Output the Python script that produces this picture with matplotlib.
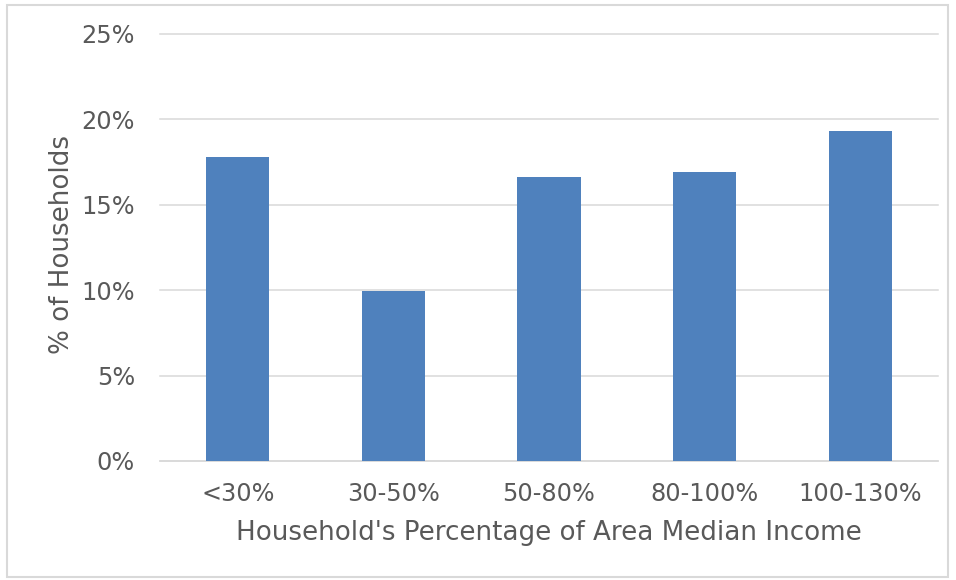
import matplotlib
matplotlib.use("Agg")
import matplotlib.pyplot as plt
from matplotlib.patches import Rectangle
from matplotlib.ticker import FuncFormatter, MultipleLocator

categories = ["<30%", "30-50%", "50-80%", "80-100%", "100-130%"]
values = [17.8, 9.95, 16.6, 16.9, 19.35]
y_label = "% of Households"
x_label = "Household's Percentage of Area Median Income"

W, H = 956, 580
fig = plt.figure(figsize=(W / 100, H / 100), dpi=100)
fig.patch.set_facecolor("white")

# outer border
fig.add_artist(Rectangle((7 / W, 1 - 577 / H), (948 - 7) / W, (577 - 5) / H,
                         transform=fig.transFigure, fill=False,
                         edgecolor="#d9d9d9", linewidth=1.5))

left, right, top, bottom = 160, 938, 34, 461
ax = fig.add_axes([left / W, 1 - bottom / H, (right - left) / W, (bottom - top) / H])

x = range(len(categories))
ax.bar(x, values, width=0.405, color="#4f81bd", zorder=3)

ax.set_xlim(-0.5, len(categories) - 0.5)
ax.set_ylim(0, 25)
ax.yaxis.set_major_locator(MultipleLocator(5))
ax.yaxis.set_major_formatter(FuncFormatter(lambda v, p: f"{v:.0f}%"))
ax.set_xticks(list(x))
ax.set_xticklabels(categories)

ax.grid(axis="y", color="#d9d9d9", linewidth=1.1, zorder=0)
ax.set_axisbelow(True)
for gl in ax.get_ygridlines():
    gl.set_clip_on(False)
for s in ["top", "right", "left"]:
    ax.spines[s].set_visible(False)
ax.spines["bottom"].set_color("#d9d9d9")
ax.spines["bottom"].set_linewidth(1.1)

txt = "#595959"
ax.tick_params(axis="both", length=0, labelsize=17.3, labelcolor=txt)
ax.tick_params(axis="x", pad=15)
ax.tick_params(axis="y", pad=18)

ax.set_xlabel(x_label, fontsize=18.8, color=txt)
ax.set_ylabel(y_label, fontsize=18.8, color=txt)
ax.xaxis.set_label_coords((549 - left) / (right - left), -(533 - bottom) / (bottom - top))
ax.yaxis.set_label_coords(-(left - 62) / (right - left), (bottom - 245) / (bottom - top))
ax.xaxis.label.set_va("center")
ax.yaxis.label.set_va("center")

fig.savefig("out.png", dpi=100)
